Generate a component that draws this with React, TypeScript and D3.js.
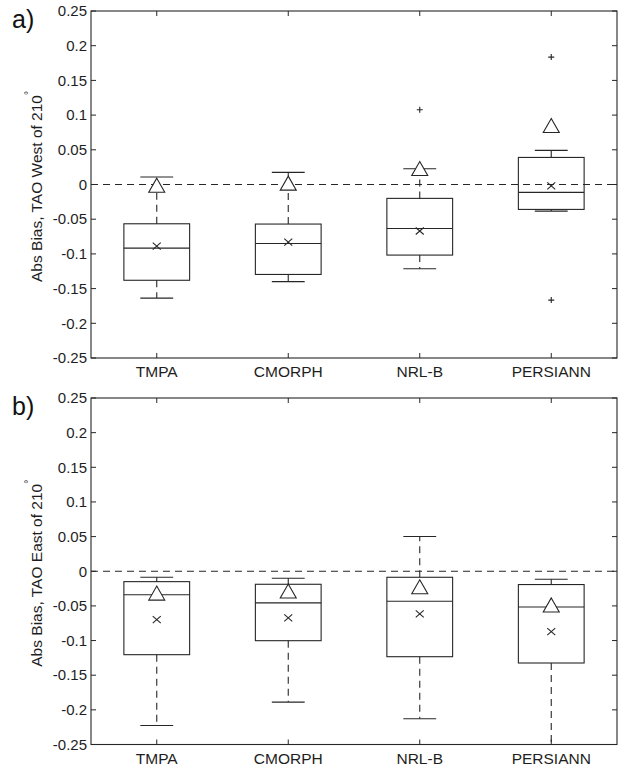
import React from "react";
import * as d3 from "d3";

// Categories and y tick labels
const categories = ["TMPA", "CMORPH", "NRL-B", "PERSIANN"];
const yTickValues = [0.25, 0.2, 0.15, 0.1, 0.05, 0, -0.05, -0.1, -0.15, -0.2, -0.25];
const yTickLabels = ["0.25", "0.2", "0.15", "0.1", "0.05", "0", "-0.05", "-0.1", "-0.15", "-0.2", "-0.25"];

// Panel a: TAO West of 210°
const westWhiskerLow = [-0.1637, -0.14, -0.1215, -0.0383];
const westQ1 = [-0.138, -0.1296, -0.1017, -0.0359];
const westMedian = [-0.0917, -0.085, -0.0633, -0.0114];
const westQ3 = [-0.0566, -0.057, -0.02, 0.039];
const westWhiskerHigh = [0.0107, 0.0174, 0.0226, 0.0491];
const westMean = [-0.0888, -0.083, -0.067, -0.002];
const westTriangle = [-0.001, 0.002, 0.023, 0.085];
const westOutliers = [[], [], [0.1077], [0.1836, -0.1666]];

// Panel b: TAO East of 210°
const eastWhiskerLow = [-0.2225, -0.1888, -0.2129, -0.27];
const eastQ1 = [-0.1204, -0.1002, -0.1233, -0.1324];
const eastMedian = [-0.034, -0.0457, -0.0433, -0.0515];
const eastQ3 = [-0.015, -0.0188, -0.0087, -0.0192];
const eastWhiskerHigh = [-0.0087, -0.0101, 0.0501, -0.0115];
const eastMean = [-0.0698, -0.0674, -0.0616, -0.0871];
const eastTriangle = [-0.0315, -0.0286, -0.0224, -0.0486];
const eastOutliers: number[][] = [[], [], [], []];

const W = 618;
const H = 768;
const LEFT = 91;
const RIGHT = 617;
const INK = "#262626";
const FONT = "'Liberation Sans', Arial, Helvetica, sans-serif";
const DASH = "7,5";

type PanelProps = {
  top: number;
  bottom: number;
  tag: string;
  region: string;
  whiskerLow: number[];
  q1: number[];
  median: number[];
  q3: number[];
  whiskerHigh: number[];
  mean: number[];
  triangle: number[];
  outliers: number[][];
  clipId: string;
};

function Panel(p: PanelProps) {
  const x = d3.scaleLinear().domain([0.5, categories.length + 0.5]).range([LEFT, RIGHT]);
  const y = d3.scaleLinear().domain([-0.25, 0.25]).range([p.bottom, p.top]);
  const step = x(2) - x(1);
  const boxHalf = step * 0.25;
  const capHalf = step * 0.125;
  const tickLen = 5;
  const midY = (p.top + p.bottom) / 2;

  return (
    <g>
      <defs>
        <clipPath id={p.clipId}>
          <rect x={LEFT} y={p.top} width={RIGHT - LEFT} height={p.bottom - p.top} />
        </clipPath>
      </defs>

      {/* panel tag */}
      <text x={12} y={p.top + 17} fontSize={25} fontFamily={FONT} fill="#111">
        {p.tag}
      </text>

      {/* y axis label */}
      <text
        transform={`translate(42,${midY + 2}) rotate(-90)`}
        textAnchor="middle"
        fontSize={15.5}
        fontFamily={FONT}
        fill="#1e1e1e"
      >
        {`Abs Bias, TAO ${p.region} of 210`}
        <tspan fontSize={10} dy={-10}>°</tspan>
      </text>

      {/* y ticks and labels */}
      {yTickValues.map((v, i) => (
        <g key={`yt${i}`}>
          <line x1={LEFT} x2={LEFT + tickLen} y1={y(v)} y2={y(v)} stroke={INK} strokeWidth={1} />
          <line x1={RIGHT} x2={RIGHT - tickLen} y1={y(v)} y2={y(v)} stroke={INK} strokeWidth={1} />
          <text
            x={LEFT - 4}
            y={y(v)}
            dy="0.35em"
            textAnchor="end"
            fontSize={15}
            fontFamily={FONT}
            fill="#1e1e1e"
          >
            {yTickLabels[i]}
          </text>
        </g>
      ))}

      {/* x ticks and category labels */}
      {categories.map((c, i) => (
        <g key={`xt${i}`}>
          <line x1={x(i + 1)} x2={x(i + 1)} y1={p.bottom} y2={p.bottom - tickLen} stroke={INK} strokeWidth={1} />
          <line x1={x(i + 1)} x2={x(i + 1)} y1={p.top} y2={p.top + tickLen} stroke={INK} strokeWidth={1} />
          <text
            x={x(i + 1)}
            y={p.bottom + 19}
            textAnchor="middle"
            fontSize={15.5}
            fontFamily={FONT}
            fill="#1e1e1e"
          >
            {c}
          </text>
        </g>
      ))}

      <g clipPath={`url(#${p.clipId})`}>
        {/* zero reference line */}
        <line x1={LEFT} x2={RIGHT} y1={y(0)} y2={y(0)} stroke={INK} strokeWidth={1} strokeDasharray={DASH} />

        {categories.map((c, i) => {
          const cx = x(i + 1);
          const tY = y(p.triangle[i]);
          const mY = y(p.mean[i]);
          return (
            <g key={`box${i}`} stroke={INK} strokeWidth={1.1} fill="none">
              {/* whiskers */}
              <line x1={cx} x2={cx} y1={y(p.q3[i])} y2={y(p.whiskerHigh[i])} strokeDasharray={DASH} />
              <line x1={cx} x2={cx} y1={y(p.q1[i])} y2={y(p.whiskerLow[i])} strokeDasharray={DASH} />
              <line x1={cx - capHalf} x2={cx + capHalf} y1={y(p.whiskerHigh[i])} y2={y(p.whiskerHigh[i])} />
              <line x1={cx - capHalf} x2={cx + capHalf} y1={y(p.whiskerLow[i])} y2={y(p.whiskerLow[i])} />
              {/* box and median */}
              <rect
                x={cx - boxHalf}
                y={y(p.q3[i])}
                width={boxHalf * 2}
                height={y(p.q1[i]) - y(p.q3[i])}
              />
              <line x1={cx - boxHalf} x2={cx + boxHalf} y1={y(p.median[i])} y2={y(p.median[i])} />
              {/* mean marker */}
              <path d={`M${cx - 4},${mY - 3.5}L${cx + 4},${mY + 3.5}M${cx - 4},${mY + 3.5}L${cx + 4},${mY - 3.5}`} />
              {/* triangle marker */}
              <path d={`M${cx},${tY - 7}L${cx + 8},${tY + 7}L${cx - 8},${tY + 7}Z`} fill="#fff" />
              {/* outliers */}
              {p.outliers[i].map((o, k) => (
                <path key={k} d={`M${cx - 3},${y(o)}H${cx + 3}M${cx},${y(o) - 3}V${y(o) + 3}`} />
              ))}
            </g>
          );
        })}
      </g>

      {/* axes frame */}
      <rect x={LEFT} y={p.top} width={RIGHT - LEFT} height={p.bottom - p.top} fill="none" stroke={INK} strokeWidth={1.1} />
    </g>
  );
}

export default function App() {
  return (
    <svg
      width={W}
      height={H}
      style={{ position: "absolute", left: 0, top: 0, background: "#fff" }}
    >
      <rect width={W} height={H} fill="#fff" />
      <Panel
        top={11}
        bottom={358}
        tag="a)"
        region="West"
        whiskerLow={westWhiskerLow}
        q1={westQ1}
        median={westMedian}
        q3={westQ3}
        whiskerHigh={westWhiskerHigh}
        mean={westMean}
        triangle={westTriangle}
        outliers={westOutliers}
        clipId="clipWest"
      />
      <Panel
        top={398}
        bottom={744.5}
        tag="b)"
        region="East"
        whiskerLow={eastWhiskerLow}
        q1={eastQ1}
        median={eastMedian}
        q3={eastQ3}
        whiskerHigh={eastWhiskerHigh}
        mean={eastMean}
        triangle={eastTriangle}
        outliers={eastOutliers}
        clipId="clipEast"
      />
    </svg>
  );
}
